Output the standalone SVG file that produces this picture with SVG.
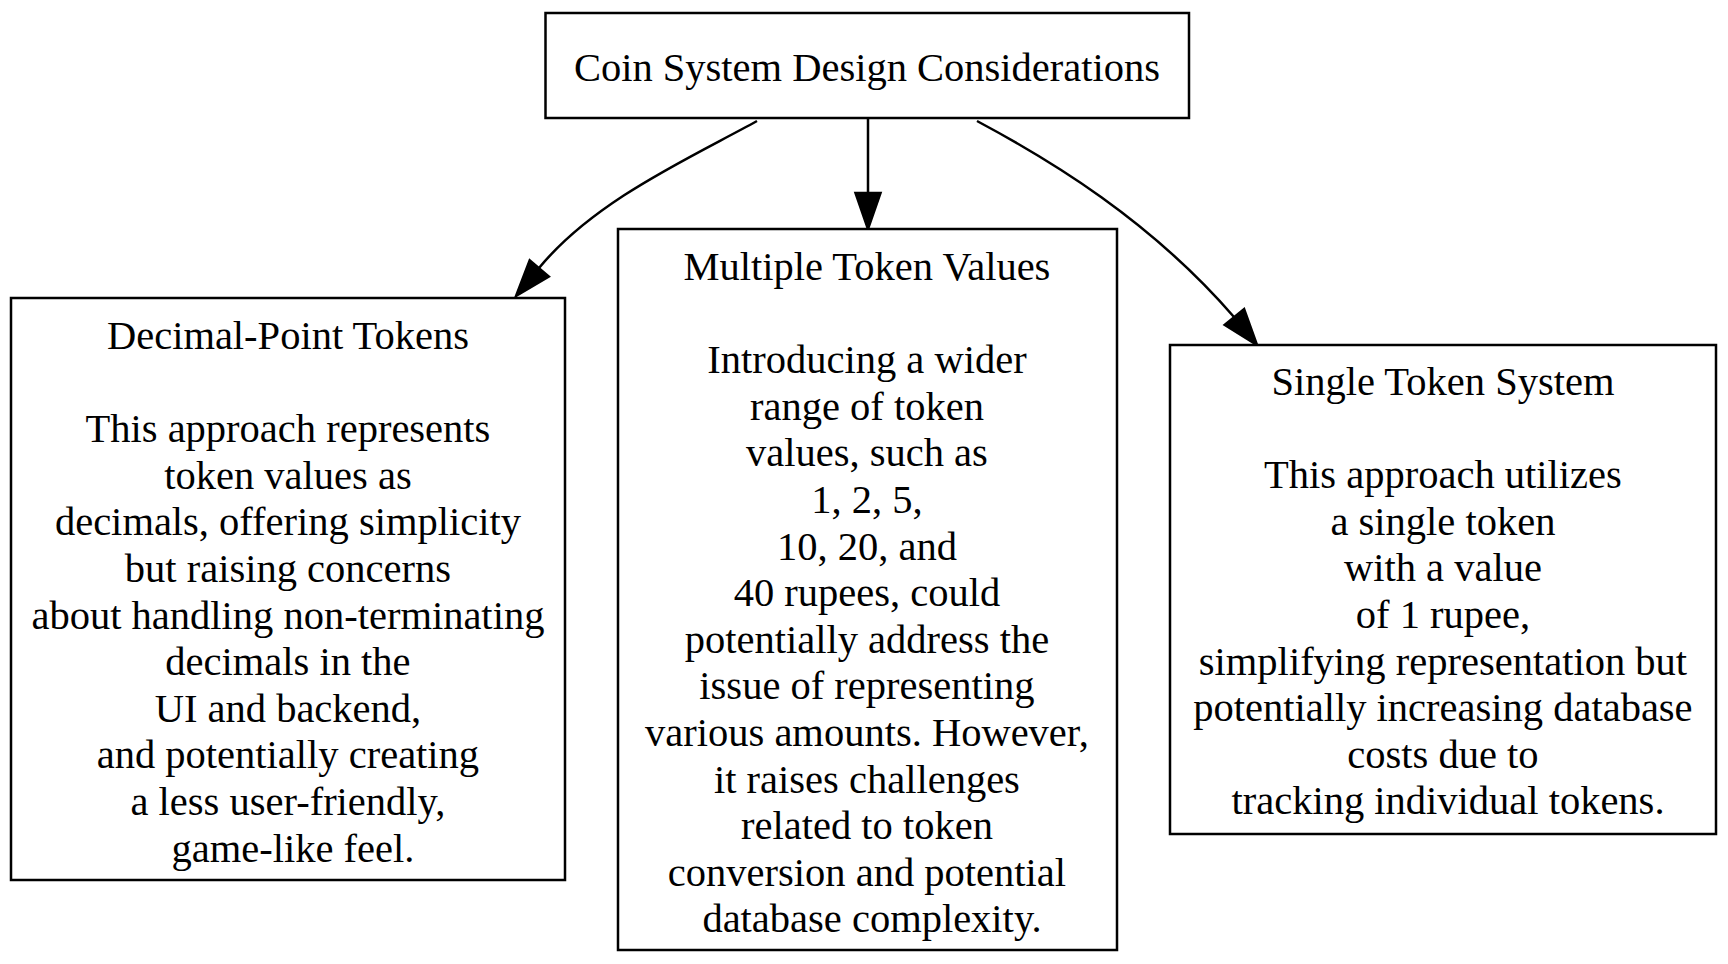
<svg xmlns="http://www.w3.org/2000/svg" width="1728" height="964" viewBox="0 0 1728 964">
<style>
.box{fill:#fff;stroke:#000;stroke-width:2.5}
.t{font-family:"Liberation Serif","Times New Roman",serif;font-size:40.5px;fill:#000;text-anchor:middle}
.e{fill:none;stroke:#000;stroke-width:2.5}
.h{fill:#000;stroke:#000;stroke-width:2.5}
</style>
<rect width="1728" height="964" fill="#fff"/>
<g id="connectors">
<path class="e" d="M757,121 C690,158 595,200 539,268"/>
<polygon class="h" points="516,296 548.8,276.6 529.7,260.4"/>
<path class="e" d="M868,118 L868,193"/>
<polygon class="h" points="868,229 855.5,193 880.5,193"/>
<path class="e" d="M977,121 C1050,160 1150,220 1234,317"/>
<polygon class="h" points="1257,345 1244.1,309.2 1224.7,324.9"/>
</g>
<g id="root">
<rect class="box" x="545.5" y="13" width="643.5" height="105"/>
<text class="t" x="867" y="81">Coin System Design Considerations</text>
</g>
<g id="decimal">
<rect class="box" x="11" y="298" width="554" height="582"/>
<text class="t">
<tspan x="293" y="349">Decimal-Point Tokens</tspan>
<tspan x="293" y="442.2">This approach represents</tspan>
<tspan x="293" y="488.8">token values as</tspan>
<tspan x="293" y="535.4">decimals, offering simplicity</tspan>
<tspan x="293" y="582">but raising concerns</tspan>
<tspan x="293" y="628.6">about handling non-terminating</tspan>
<tspan x="293" y="675.2">decimals in the</tspan>
<tspan x="293" y="721.8">UI and backend,</tspan>
<tspan x="293" y="768.4">and potentially creating</tspan>
<tspan x="293" y="815">a less user-friendly,</tspan>
<tspan x="293" y="861.6">game-like feel.</tspan>
</text>
</g>
<g id="multiple">
<rect class="box" x="618" y="229" width="499" height="721"/>
<text class="t">
<tspan x="872" y="280">Multiple Token Values</tspan>
<tspan x="872" y="373.2">Introducing a wider</tspan>
<tspan x="872" y="419.8">range of token</tspan>
<tspan x="872" y="466.4">values, such as</tspan>
<tspan x="872" y="513">1, 2, 5,</tspan>
<tspan x="872" y="559.6">10, 20, and</tspan>
<tspan x="872" y="606.2">40 rupees, could</tspan>
<tspan x="872" y="652.8">potentially address the</tspan>
<tspan x="872" y="699.4">issue of representing</tspan>
<tspan x="872" y="746">various amounts. However,</tspan>
<tspan x="872" y="792.6">it raises challenges</tspan>
<tspan x="872" y="839.2">related to token</tspan>
<tspan x="872" y="885.8">conversion and potential</tspan>
<tspan x="872" y="932.4">database complexity.</tspan>
</text>
</g>
<g id="single">
<rect class="box" x="1170" y="345" width="546" height="489"/>
<text class="t">
<tspan x="1448" y="395">Single Token System</tspan>
<tspan x="1448" y="488.2">This approach utilizes</tspan>
<tspan x="1448" y="534.8">a single token</tspan>
<tspan x="1448" y="581.4">with a value</tspan>
<tspan x="1448" y="628">of 1 rupee,</tspan>
<tspan x="1448" y="674.6">simplifying representation but</tspan>
<tspan x="1448" y="721.2">potentially increasing database</tspan>
<tspan x="1448" y="767.8">costs due to</tspan>
<tspan x="1448" y="814.4">tracking individual tokens.</tspan>
</text>
</g>
</svg>
